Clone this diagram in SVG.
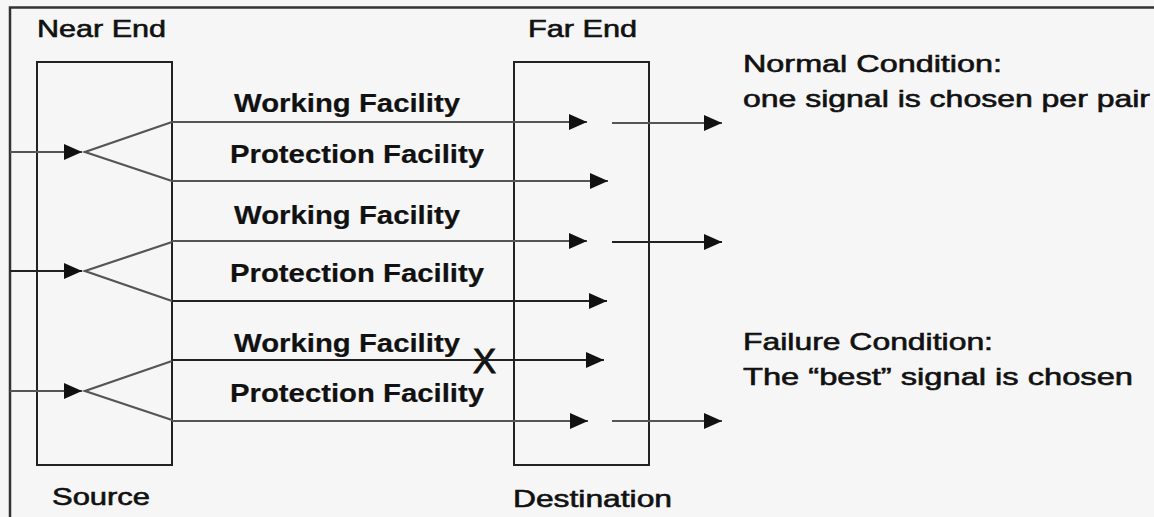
<svg xmlns="http://www.w3.org/2000/svg" width="1154" height="517" viewBox="0 0 1154 517">
<defs>
<style>
.t{font-family:"Liberation Sans",Arial,sans-serif;font-size:24px;fill:#111;stroke:#111;stroke-width:0.6;}
.b{font-weight:bold;font-size:26px;stroke-width:0.2;}
.box{fill:none;stroke:#222;stroke-width:2;}
.ln{fill:none;stroke:#555;stroke-width:2.2;}
.dk{stroke:#222;}
</style>
<marker id="ah" viewBox="0 0 10 10" refX="10" refY="5" markerWidth="18" markerHeight="18" markerUnits="userSpaceOnUse" orient="auto">
<path d="M0,0.5 L10,5 L0,9.5 Z" fill="#111"/>
</marker>
</defs>
<rect width="1154" height="517" fill="#f6f6f6"/>
<path d="M10,517 V7.5 H1154" fill="none" stroke="#333" stroke-width="2.5"/>

<g id="near-end">
<rect class="box" x="37" y="62" width="135" height="403"/>
<text class="t" x="37" y="37" textLength="129" lengthAdjust="spacingAndGlyphs">Near End</text>
<text class="t" x="52" y="505" textLength="98" lengthAdjust="spacingAndGlyphs">Source</text>
</g>

<g id="far-end">
<rect class="box" x="514" y="62" width="135" height="403"/>
<text class="t" x="528" y="37" textLength="109" lengthAdjust="spacingAndGlyphs">Far End</text>
<text class="t" x="513" y="507" textLength="159" lengthAdjust="spacingAndGlyphs">Destination</text>
</g>

<g id="labels">
<text class="t b" x="234" y="112" textLength="226" lengthAdjust="spacingAndGlyphs">Working Facility</text>
<text class="t b" x="230" y="163" textLength="254" lengthAdjust="spacingAndGlyphs">Protection Facility</text>
<text class="t b" x="234" y="224" textLength="226" lengthAdjust="spacingAndGlyphs">Working Facility</text>
<text class="t b" x="230" y="282" textLength="254" lengthAdjust="spacingAndGlyphs">Protection Facility</text>
<text class="t b" x="234" y="352" textLength="226" lengthAdjust="spacingAndGlyphs">Working Facility</text>
<text class="t b" x="230" y="402" textLength="254" lengthAdjust="spacingAndGlyphs">Protection Facility</text>
</g>

<g id="notes">
<text class="t" x="743" y="72" textLength="259" lengthAdjust="spacingAndGlyphs">Normal Condition:</text>
<text class="t" x="743" y="107" textLength="407" lengthAdjust="spacingAndGlyphs">one signal is chosen per pair</text>
<text class="t" x="743" y="350" textLength="250" lengthAdjust="spacingAndGlyphs">Failure Condition:</text>
<text class="t" x="743" y="385" textLength="390" lengthAdjust="spacingAndGlyphs">The “best” signal is chosen</text>
</g>

<g id="failure-mark">
<text class="t" x="473" y="373" style="font-size:35px;stroke-width:1" textLength="23" lengthAdjust="spacingAndGlyphs">X</text>
</g>

<g id="connectors">
<!-- pair 1 -->
<line class="ln" x1="10" y1="152" x2="82" y2="152" marker-end="url(#ah)"/>
<polyline class="ln" points="172,122 85,152 172,181"/>
<line class="ln" x1="172" y1="122" x2="587" y2="122" marker-end="url(#ah)"/>
<line class="ln" x1="172" y1="181" x2="608" y2="181" marker-end="url(#ah)"/>
<line class="ln" x1="612" y1="123" x2="722" y2="123" marker-end="url(#ah)"/>
<!-- pair 2 -->
<line class="ln dk" x1="10" y1="271" x2="82" y2="271" marker-end="url(#ah)"/>
<polyline class="ln" points="172,242 85,271 172,301"/>
<line class="ln" x1="172" y1="241" x2="587" y2="241" marker-end="url(#ah)"/>
<line class="ln dk" x1="172" y1="301" x2="607" y2="301" marker-end="url(#ah)"/>
<line class="ln dk" x1="612" y1="242" x2="722" y2="242" marker-end="url(#ah)"/>
<!-- pair 3 -->
<line class="ln" x1="10" y1="391" x2="82" y2="391" marker-end="url(#ah)"/>
<polyline class="ln" points="172,361 85,391 172,420"/>
<line class="ln dk" x1="172" y1="360" x2="604" y2="360" marker-end="url(#ah)"/>
<line class="ln" x1="172" y1="421" x2="588" y2="421" marker-end="url(#ah)"/>
<line class="ln" x1="612" y1="421" x2="722" y2="421" marker-end="url(#ah)"/>
</g>
</svg>
